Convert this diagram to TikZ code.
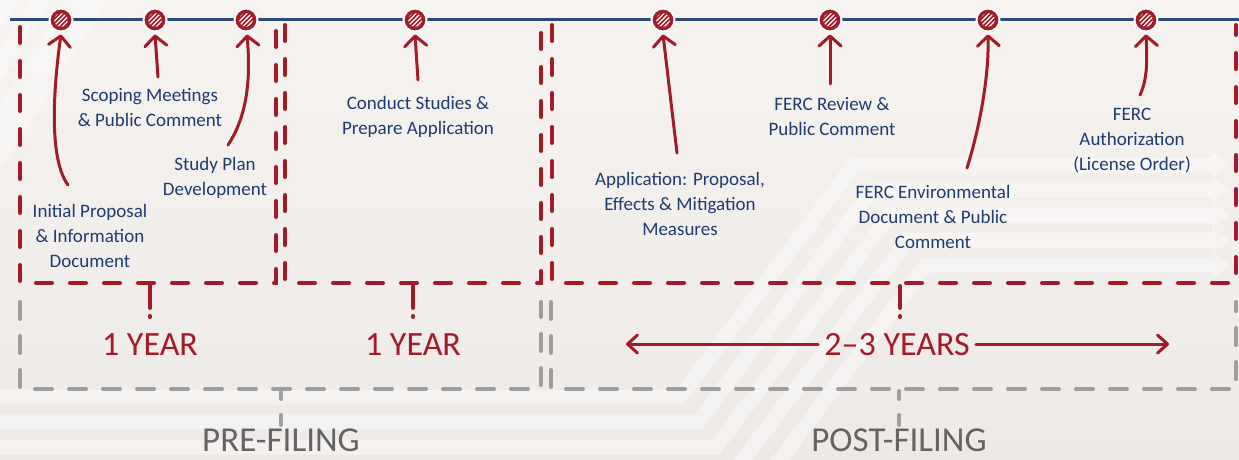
\documentclass[tikz,border=0pt]{standalone}
\usepackage{fontspec}
\setmainfont{Carlito}
\usetikzlibrary{arrows.meta,calc}

\definecolor{bgtop}{RGB}{246,243,241}
\definecolor{bgbot}{RGB}{237,233,231}
\definecolor{tlblue}{RGB}{42,74,124}
\definecolor{txtblue}{RGB}{31,60,110}
\definecolor{accred}{RGB}{163,27,40}
\definecolor{dashgray}{RGB}{158,158,158}
\definecolor{phasegray}{RGB}{100,100,100}

\tikzset{
  timeline/.style={draw=tlblue, line width=3pt},
  milestone/.style={circle, minimum size=23pt, inner sep=0pt, fill=accred,
    draw=white, line width=2pt,
    path picture={
      \clip (path picture bounding box.center) circle (6.8pt);
      \foreach \k in {-10,-5.5,...,10}
        \draw[white, line width=1.1pt]
          ($(path picture bounding box.center)+(\k-10,10)$) -- ++(20,-20);
    }},
  lbl/.style={text=txtblue, align=center, inner sep=2pt,
    font=\fontsize{19}{25}\selectfont},
  callout/.style={draw=accred, line width=3pt, line cap=round,
    -{Straight Barb[length=10pt,width=22pt,round]}},
  span/.style={draw=accred, line width=3pt, line cap=round,
    -{Straight Barb[length=10pt,width=18pt,round]}},
  phasebox/.style={draw=accred, line width=4pt, line cap=round,
    dash pattern=on 16pt off 18pt},
  phasetick/.style={draw=accred, line width=4pt, line cap=round,
    dash pattern=on 22pt off 8pt on 1pt off 20pt},
  stagebox/.style={draw=dashgray, line width=4pt, line cap=round,
    dash pattern=on 17pt off 17pt},
  stagetick/.style={draw=dashgray, line width=4pt, line cap=round,
    dash pattern=on 8pt off 16pt on 10pt off 20pt},
  duration/.style={text=accred, inner sep=6pt,
    font=\fontsize{34}{34}\selectfont},
  stage/.style={text=phasegray, inner sep=0pt,
    font=\fontsize{35}{35}\selectfont},
  band/.style={draw=white, line width=15pt, opacity=0.4, line join=miter},
  bandtip/.style={fill=white, opacity=0.4},
}

\begin{document}
\begin{tikzpicture}[x=1pt, y=-1pt]
  \useasboundingbox (0,0) rectangle (1239,460);
  \clip (0,0) rectangle (1239,460);

  % paper background
  \shade[top color=bgtop, bottom color=bgbot] (0,0) rectangle (1239,460);

  % faint diagonal stripes in the upper left corner
  \foreach \a/\b in {0/18, 30/52, 66/107}
    \fill[white, opacity=0.35] (\a,0) -- (\b,0) -- (0,{\b*1.6}) -- (0,{\a*1.6}) -- cycle;

  % chevron bands running from the bottom left to the right edge
  \foreach \i in {0,...,4} {
    \pgfmathsetmacro\yb{397+25*\i}
    \pgfmathsetmacro\yt{165+25*\i}
    \pgfmathsetmacro\xb{680+18*\i}
    \pgfmathsetmacro\xt{\xb+0.75*232}
    \draw[band] (-10,\yb) -- (\xb,\yb) -- (\xt,\yt) -- (1212,\yt);
    \fill[bandtip] (1212,\yt-13) -- (1230,\yt) -- (1212,\yt+13) -- cycle;
  }

  % pre-filing and post-filing stages
  \draw[stagebox] (20,302) -- (20,389) -- (541,389) -- (541,302);
  \draw[stagebox] (551,302) -- (551,389) -- (1236,389) -- (1236,302);
  \coordinate (s1) at (281,391);
  \coordinate (s2) at (899,391);
  \draw[stagetick] (s1) -- ++(0,34);
  \draw[stagetick] (s2) -- ++(0,34);
  \node[stage, anchor=base] (pre)  at (281,451) {PRE-FILING};
  \node[stage, anchor=base] (post) at (899,451) {POST-FILING};

  % phase boxes
  \draw[phasebox] (20,27) -- (20,283) -- (276,283) -- (276,25);
  \draw[phasebox] (285,25) -- (285,283) -- (541,283) -- (541,25);
  \draw[phasebox] (552,25) -- (552,283) -- (1236,283) -- (1236,25);
  \coordinate (k1) at (150,286);
  \coordinate (k2) at (413,286);
  \coordinate (k3) at (900,286);
  \draw[phasetick] (k1) -- ++(0,36);
  \draw[phasetick] (k2) -- ++(0,36);
  \draw[phasetick] (k3) -- ++(0,36);

  % durations
  \node[duration, anchor=base] (y1) at (150,355) {1 YEAR};
  \node[duration, anchor=base] (y2) at (413,355) {1 YEAR};
  \node[duration, anchor=base] (y3) at (897,355) {2–3 YEARS};
  \coordinate (d1) at (626,343);
  \coordinate (d2) at (1169,343);
  \draw[span] (y3.west) -- (y3.west -| d1);
  \draw[span] (y3.east) -- (y3.east -| d2);

  % timeline
  \coordinate (tl0) at (10,20);
  \coordinate (tl1) at (1245,20);
  \draw[timeline] (tl0) -- (tl1);
  \node[milestone] (m1) at (61,20)   {};
  \node[milestone] (m2) at (155,20)  {};
  \node[milestone] (m3) at (246,20)  {};
  \node[milestone] (m4) at (415,20)  {};
  \node[milestone] (m5) at (663,20)  {};
  \node[milestone] (m6) at (830,20)  {};
  \node[milestone] (m7) at (988,20)  {};
  \node[milestone] (m8) at (1146,20) {};

  % milestone labels
  \node[lbl] (l1) at (90,236)   {Initial Proposal\\\& Information\\Document};
  \node[lbl] (l2) at (150,108)  {Scoping Meetings\\\& Public Comment};
  \node[lbl] (l3) at (215,178)  {Study Plan\\Development};
  \node[lbl] (l4) at (418,117)  {Conduct Studies \&\\Prepare Application};
  \node[lbl] (l5) at (680,204)  {Application: Proposal,\\Effects \& Mitigation\\Measures};
  \node[lbl] (l6) at (832,117)  {FERC Review \&\\Public Comment};
  \node[lbl] (l7) at (933,217)  {FERC Environmental\\Document \& Public\\Comment};
  \node[lbl] (l8) at (1132,141) {FERC\\Authorization\\(License Order)};

  % callout tails
  \coordinate (t1) at (68,185);
  \coordinate (t2) at (158,77);
  \coordinate (t3) at (228,145);
  \coordinate (t4) at (418,80);
  \coordinate (t5) at (677,153);
  \coordinate (t6) at (830,84);
  \coordinate (t7) at (967,168);
  \coordinate (t8) at (1140,95);

  % callouts
  \draw[callout] (t1) .. controls (46,155) and (56,70) .. ($(m1.south)+(0,2)$);
  \draw[callout] (t2) -- ($(m2.south)+(0,2)$);
  \draw[callout] (t3) .. controls (250,112) and (250,70) .. ($(m3.south)+(1,2)$);
  \draw[callout] (t4) -- ($(m4.south)+(0,2)$);
  \draw[callout] (t5) -- ($(m5.south)+(0,2)$);
  \draw[callout] (t6) -- ($(m6.south)+(0,2)$);
  \draw[callout] (t7) .. controls (982,120) and (989,70) .. ($(m7.south)+(0,2)$);
  \draw[callout] (t8) .. controls (1148,78) and (1147,58) .. ($(m8.south)+(0,2)$);
\end{tikzpicture}
\end{document}
